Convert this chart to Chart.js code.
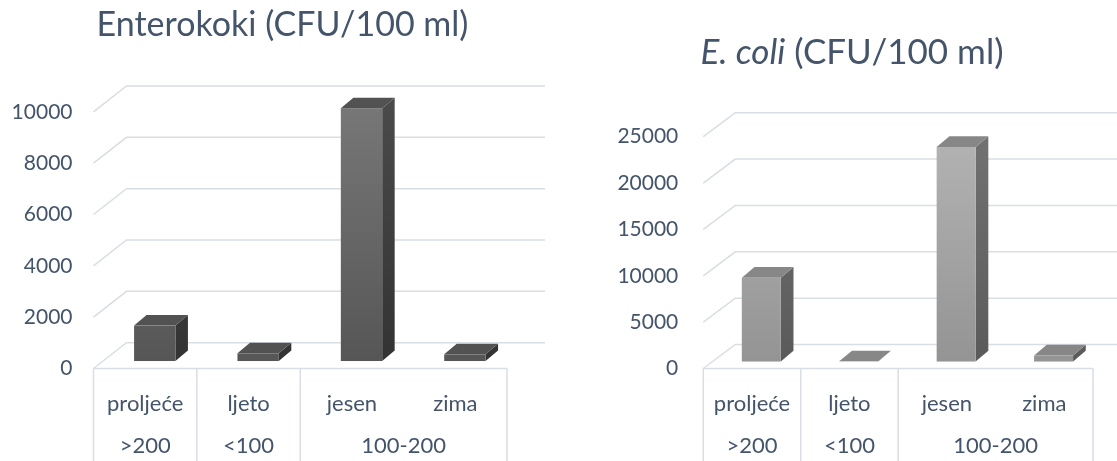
<!DOCTYPE html>
<html>
<head>
<meta charset="utf-8">
<script src="https://cdn.jsdelivr.net/npm/chart.js@4.4.1/dist/chart.umd.min.js"></script>
<style>
  html, body { margin: 0; padding: 0; background: #ffffff; }
  body { width: 1117px; height: 461px; position: relative; overflow: hidden; }
  canvas { position: absolute; top: 0; }
  #enterokokiChart { left: 0; }
  #ecoliChart { left: 558px; }
</style>
</head>
<body>
<canvas id="enterokokiChart" width="558" height="461"></canvas>
<canvas id="ecoliChart" width="559" height="461"></canvas>
<script>
// Seasons on the x axis and the bathing-quality bands they fall into
const seasons = ['proljeće', 'ljeto', 'jesen', 'zima'];
const groupLabels = ['>200', '<100', '100-200'];
const groupSizes = [1, 1, 2];

// Counts in CFU/100 ml
const enterokoki = [1380, 300, 9850, 260];
const eColi = [9040, 20, 23140, 650];

// Value axes
const enterokokiMax = 10000;
const enterokokiStep = 2000;
const eColiMax = 25000;
const eColiStep = 5000;

const TEXT = '#44546a';
const GRID = '#d9dde4';
const FONT = 'Lato, "Open Sans", sans-serif';

// Draws the pseudo-3D box: back wall grid, floor, category table, title and prism bars
const box3d = {
  id: 'box3d',
  beforeDatasetsDraw(chart, args, o) {
    const { ctx, chartArea: a, scales: { x, y } } = chart;
    ctx.save();
    ctx.strokeStyle = GRID;
    ctx.lineWidth = 1.5;

    // wall lines: short diagonal from the front edge, then along the back wall
    y.ticks.forEach(t => {
      const yf = y.getPixelForValue(t.value);
      ctx.beginPath();
      ctx.moveTo(a.left, yf);
      ctx.lineTo(a.left + o.dx, yf - o.dy);
      ctx.lineTo(o.wallRight, yf - o.dy);
      ctx.stroke();
    });

    // floor front edge
    ctx.beginPath();
    ctx.moveTo(a.left, a.bottom);
    ctx.lineTo(a.right, a.bottom);
    ctx.stroke();

    // category table below the floor
    const labels = chart.data.labels;
    const n = labels.length;
    const edges = [a.left];
    let idx = 0;
    groupSizes.forEach(s => {
      idx += s;
      edges.push(idx < n ? (x.getPixelForValue(idx - 1) + x.getPixelForValue(idx)) / 2 : a.right);
    });
    edges.forEach(ex => {
      ctx.beginPath();
      ctx.moveTo(ex, a.bottom);
      ctx.lineTo(ex, chart.height);
      ctx.stroke();
    });

    ctx.fillStyle = TEXT;
    ctx.font = `22px ${FONT}`;
    ctx.textAlign = 'center';
    ctx.textBaseline = 'middle';
    labels.forEach((l, i) => ctx.fillText(l, x.getPixelForValue(i), o.row1));
    let first = 0;
    groupLabels.forEach((g, gi) => {
      const last = first + groupSizes[gi] - 1;
      ctx.fillText(g, (x.getPixelForValue(first) + x.getPixelForValue(last)) / 2, o.row2);
      first = last + 1;
    });

    // title, possibly mixing italic and upright runs
    ctx.textBaseline = 'alphabetic';
    ctx.textAlign = 'left';
    const runs = o.title.map(r => {
      ctx.font = `${r.italic ? 'italic ' : ''}${o.titleSize}px ${FONT}`;
      return { ...r, w: ctx.measureText(r.text).width };
    });
    let tx = o.titleX - runs.reduce((s, r) => s + r.w, 0) / 2;
    runs.forEach(r => {
      ctx.font = `${r.italic ? 'italic ' : ''}${o.titleSize}px ${FONT}`;
      ctx.fillText(r.text, tx, o.titleY);
      tx += r.w;
    });
    ctx.restore();
  },
  afterDatasetsDraw(chart, args, o) {
    const { ctx, chartArea: a } = chart;
    const meta = chart.getDatasetMeta(0);
    const fx = o.dx * o.front, fy = o.dy * o.front;
    ctx.save();
    meta.data.forEach(el => {
      const p = el.getProps(['x', 'y', 'base', 'width'], true);
      const x0 = p.x - p.width / 2 + fx, x1 = p.x + p.width / 2 + fx;
      const yT = p.y - fy, yB = p.base - fy;
      const bx = o.bdx, by = o.bdy;

      // side face
      const gs = ctx.createLinearGradient(0, a.top - fy, 0, yB);
      gs.addColorStop(0, o.side[0]);
      gs.addColorStop(1, o.side[1]);
      ctx.fillStyle = gs;
      ctx.beginPath();
      ctx.moveTo(x1, yT);
      ctx.lineTo(x1 + bx, yT - by);
      ctx.lineTo(x1 + bx, yB - by);
      ctx.lineTo(x1, yB);
      ctx.closePath();
      ctx.fill();

      // top face
      ctx.fillStyle = o.top;
      ctx.beginPath();
      ctx.moveTo(x0, yT);
      ctx.lineTo(x0 + bx, yT - by);
      ctx.lineTo(x1 + bx, yT - by);
      ctx.lineTo(x1, yT);
      ctx.closePath();
      ctx.fill();

      // front face
      const gf = ctx.createLinearGradient(0, a.top - fy, 0, yB);
      gf.addColorStop(0, o.frontFill[0]);
      gf.addColorStop(1, o.frontFill[1]);
      ctx.fillStyle = gf;
      ctx.fillRect(x0, yT, x1 - x0, yB - yT);
    });
    ctx.restore();
  }
};

function makeChart(id, values, max, step, area, opts) {
  const canvas = document.getElementById(id);
  return new Chart(canvas, {
    type: 'bar',
    data: {
      labels: seasons,
      datasets: [{
        data: values,
        backgroundColor: 'rgba(0,0,0,0)',
        borderWidth: 0,
        categoryPercentage: 1,
        barPercentage: 0.4
      }]
    },
    options: {
      responsive: false,
      animation: false,
      events: [],
      layout: {
        padding: { left: area.padLeft, top: area.top, right: canvas.width - area.right, bottom: 0 }
      },
      plugins: {
        legend: { display: false },
        tooltip: { enabled: false },
        title: { display: false },
        box3d: opts
      },
      scales: {
        x: {
          type: 'category',
          offset: true,
          grid: { display: false, drawTicks: false },
          border: { display: false },
          ticks: { display: false },
          afterFit: s => { s.height = canvas.height - area.bottom; }
        },
        y: {
          min: 0,
          max: max,
          grid: { display: false, drawTicks: false },
          border: { display: false },
          ticks: {
            stepSize: step,
            color: TEXT,
            padding: area.tickPad,
            font: { family: FONT, size: 21 },
            callback: v => String(v)
          },
          afterFit: s => { s.width = area.left - area.padLeft; }
        }
      }
    },
    plugins: [box3d]
  });
}

makeChart('enterokokiChart', enterokoki, enterokokiMax, enterokokiStep,
  { padLeft: 0, left: 93.5, right: 507, top: 111.8, bottom: 368.5, tickPad: 21 },
  {
    dx: 33, dy: 25.8, front: 0.29, bdx: 12.5, bdy: 10.5, wallRight: 545,
    row1: 404, row2: 446,
    title: [{ text: 'Enterokoki (CFU/100 ml)', italic: false }],
    titleSize: 34, titleX: 282.5, titleY: 36,
    frontFill: ['#777777', '#565656'], side: ['#4a4a4a', '#333333'], top: '#525252'
  });

makeChart('ecoliChart', eColi, eColiMax, eColiStep,
  { padLeft: 0, left: 145.3, right: 535, top: 136.7, bottom: 368.5, tickPad: 25 },
  {
    dx: 32, dy: 24, front: 0.29, bdx: 12.7, bdy: 10.7, wallRight: 559,
    row1: 404, row2: 446,
    title: [{ text: 'E. coli', italic: true }, { text: ' (CFU/100 ml)', italic: false }],
    titleSize: 35, titleX: 852 - 558, titleY: 64,
    frontFill: ['#b4b4b4', '#949494'], side: ['#727272', '#5a5a5a'], top: '#878787'
  });
</script>
</body>
</html>
